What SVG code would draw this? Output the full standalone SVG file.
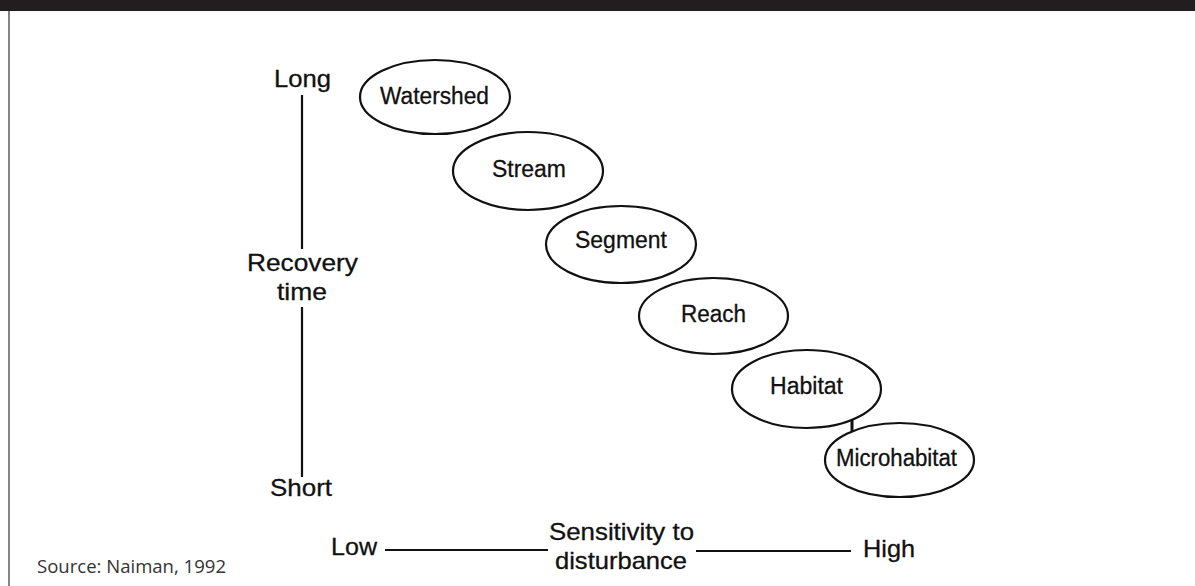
<svg xmlns="http://www.w3.org/2000/svg" width="1195" height="586" viewBox="0 0 1195 586">
<style>
.node ellipse{fill:#fff;stroke:#111;stroke-width:2.2}
.nt{font-family:"Liberation Sans",Arial,sans-serif;font-size:23px;fill:#111;stroke:#111;stroke-width:0.3;text-anchor:middle}
.ax{font-family:"Liberation Sans",Arial,sans-serif;font-size:24px;fill:#111;stroke:#111;stroke-width:0.3}
.axl{stroke:#111;stroke-width:2.2;fill:none}
.src{font-family:"Open Sans","Noto Sans",sans-serif;font-size:19px;fill:#333}
</style>
<rect x="0" y="0" width="1195" height="586" fill="#fff"/>
<rect x="0" y="0" width="1195" height="11" fill="#221e1f"/>
<line x1="9" y1="11" x2="9" y2="586" stroke="#333" stroke-width="1.2"/>

<g id="axes">
<text class="ax" x="274" y="87" textLength="57" lengthAdjust="spacingAndGlyphs">Long</text>
<text class="ax" x="247" y="271" textLength="111" lengthAdjust="spacingAndGlyphs">Recovery</text>
<text class="ax" x="277" y="300" textLength="50" lengthAdjust="spacingAndGlyphs">time</text>
<text class="ax" x="270" y="496" textLength="62" lengthAdjust="spacingAndGlyphs">Short</text>
<text class="ax" x="331" y="555" textLength="46" lengthAdjust="spacingAndGlyphs">Low</text>
<text class="ax" x="549" y="540" textLength="145" lengthAdjust="spacingAndGlyphs">Sensitivity to</text>
<text class="ax" x="555" y="569" textLength="132" lengthAdjust="spacingAndGlyphs">disturbance</text>
<text class="ax" x="863" y="557" textLength="52" lengthAdjust="spacingAndGlyphs">High</text>
</g>

<g id="connectors">
<line class="axl" x1="302" y1="95" x2="302" y2="249"/>
<line class="axl" x1="302" y1="307" x2="302" y2="477"/>
<line class="axl" x1="385" y1="550" x2="548" y2="550"/>
<line class="axl" x1="696" y1="551" x2="851" y2="551"/>
<line x1="852" y1="417" x2="852" y2="433" stroke="#111" stroke-width="3"/>
</g>

<g id="watershed" class="node"><ellipse cx="435" cy="97" rx="75" ry="37"/><text class="nt" x="434.5" y="104" textLength="109" lengthAdjust="spacingAndGlyphs">Watershed</text></g>
<g id="stream" class="node"><ellipse cx="528" cy="171" rx="75" ry="39"/><text class="nt" x="529" y="177" textLength="74" lengthAdjust="spacingAndGlyphs">Stream</text></g>
<g id="segment" class="node"><ellipse cx="621" cy="244.5" rx="75" ry="38.5"/><text class="nt" x="621" y="248" textLength="92" lengthAdjust="spacingAndGlyphs">Segment</text></g>
<g id="reach" class="node"><ellipse cx="713.5" cy="316" rx="74.5" ry="38"/><text class="nt" x="713.5" y="322" textLength="65" lengthAdjust="spacingAndGlyphs">Reach</text></g>
<g id="habitat" class="node"><ellipse cx="806.5" cy="389" rx="74.5" ry="39"/><text class="nt" x="806.5" y="394" textLength="73" lengthAdjust="spacingAndGlyphs">Habitat</text></g>
<g id="microhabitat" class="node"><ellipse cx="899.5" cy="460" rx="74.5" ry="37"/><text class="nt" x="896.5" y="466" textLength="121" lengthAdjust="spacingAndGlyphs">Microhabitat</text></g>

<text class="src" x="37" y="573" textLength="189" lengthAdjust="spacingAndGlyphs">Source: Naiman, 1992</text>
</svg>
